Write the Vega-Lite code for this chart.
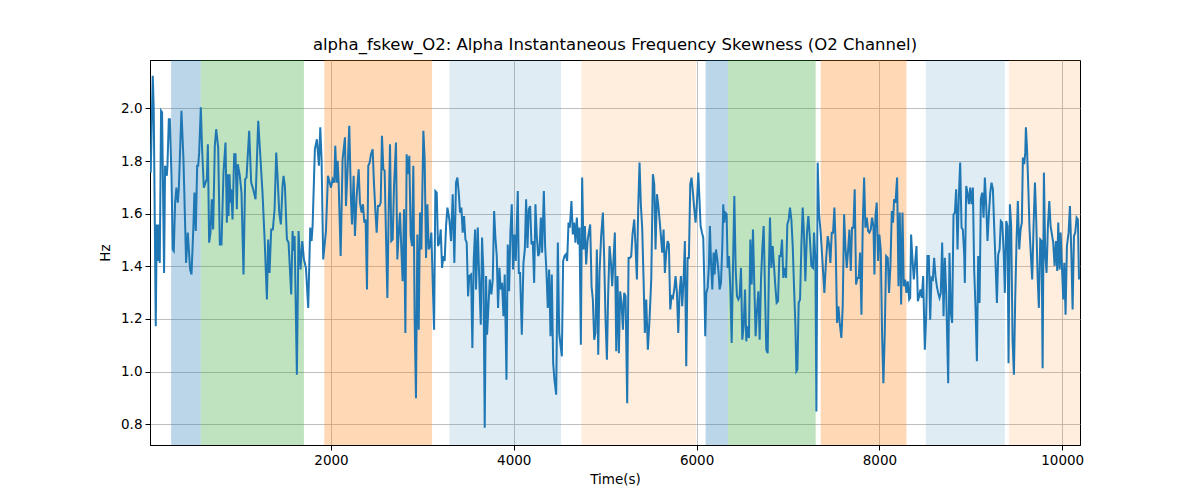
{
"$schema": "https://vega.github.io/schema/vega-lite/v6.json",
"width": 930, "height": 385,
"autosize": {"type": "none"},
"padding": {"left": 150, "top": 60, "right": 120, "bottom": 55},
"title": {"text": "alpha_fskew_O2: Alpha Instantaneous Frequency Skewness (O2 Channel)", "font": "DejaVu Sans", "fontSize": 16.5, "fontWeight": "normal", "color": "black", "offset": 7},
"config": {
  "view": {"stroke": "black", "strokeWidth": 1},
  "axis": {"labelFont": "DejaVu Sans", "titleFont": "DejaVu Sans", "labelFontSize": 13.5, "titleFontSize": 13.5, "titleFontWeight": "normal", "labelColor": "black", "titleColor": "black", "tickColor": "black", "domainColor": "black", "gridColor": "#b0b0b0", "gridWidth": 0.8, "tickSize": 5, "labelPadding": 3}
},
"datasets": {
  "spans": [
    {"s":251,"e":576,"k":"a"},{"s":576,"e":1704,"k":"b"},{"s":1927,"e":3106,"k":"c"},{"s":3295,"e":4518,"k":"d"},{"s":4741,"e":5997,"k":"e"},
    {"s":6099,"e":6343,"k":"a"},{"s":6343,"e":7303,"k":"b"},{"s":7358,"e":8296,"k":"c"},{"s":8508,"e":9373,"k":"d"},{"s":9417,"e":10300,"k":"e"}
  ],
  "series": [
{"t":28,"v":1.756},{"t":50,"v":2.124},{"t":61,"v":1.997},{"t":83,"v":1.172},{"t":94,"v":1.559},{"t":109,"v":1.420},{"t":116,"v":1.559},{"t":127,"v":1.413},{"t":141,"v":1.991},{"t":152,"v":1.985},{"t":174,"v":1.375},{"t":185,"v":1.782},{"t":204,"v":1.744},{"t":211,"v":1.782},{"t":226,"v":1.959},{"t":237,"v":1.959},{"t":255,"v":1.744},{"t":269,"v":1.464},{"t":280,"v":1.458},{"t":295,"v":1.642},{"t":309,"v":1.699},{"t":324,"v":1.642},{"t":335,"v":1.693},{"t":364,"v":1.991},{"t":386,"v":1.807},{"t":415,"v":1.413},{"t":433,"v":1.528},{"t":459,"v":1.388},{"t":474,"v":1.369},{"t":495,"v":1.553},{"t":506,"v":1.680},{"t":521,"v":1.534},{"t":536,"v":1.782},{"t":547,"v":1.782},{"t":558,"v":1.832},{"t":576,"v":2.004},{"t":590,"v":1.845},{"t":609,"v":1.699},{"t":627,"v":1.718},{"t":642,"v":1.731},{"t":653,"v":1.864},{"t":667,"v":1.490},{"t":682,"v":1.528},{"t":696,"v":1.655},{"t":711,"v":1.540},{"t":729,"v":1.858},{"t":744,"v":1.921},{"t":766,"v":1.851},{"t":784,"v":1.483},{"t":802,"v":1.483},{"t":824,"v":1.756},{"t":846,"v":1.870},{"t":861,"v":1.566},{"t":872,"v":1.750},{"t":879,"v":1.591},{"t":890,"v":1.750},{"t":901,"v":1.642},{"t":908,"v":1.693},{"t":923,"v":1.578},{"t":941,"v":1.826},{"t":956,"v":1.826},{"t":970,"v":1.617},{"t":981,"v":1.788},{"t":1003,"v":1.744},{"t":1021,"v":1.680},{"t":1043,"v":1.369},{"t":1061,"v":1.731},{"t":1076,"v":1.737},{"t":1105,"v":1.915},{"t":1127,"v":1.718},{"t":1149,"v":1.693},{"t":1175,"v":1.655},{"t":1204,"v":1.953},{"t":1229,"v":1.807},{"t":1251,"v":1.680},{"t":1277,"v":1.477},{"t":1299,"v":1.274},{"t":1313,"v":1.502},{"t":1328,"v":1.375},{"t":1346,"v":1.540},{"t":1364,"v":1.540},{"t":1383,"v":1.617},{"t":1401,"v":1.832},{"t":1415,"v":1.744},{"t":1434,"v":1.604},{"t":1452,"v":1.559},{"t":1470,"v":1.705},{"t":1481,"v":1.744},{"t":1496,"v":1.705},{"t":1518,"v":1.502},{"t":1536,"v":1.490},{"t":1565,"v":1.293},{"t":1580,"v":1.534},{"t":1591,"v":1.458},{"t":1602,"v":1.515},{"t":1627,"v":0.988},{"t":1645,"v":1.534},{"t":1667,"v":1.388},{"t":1686,"v":1.496},{"t":1704,"v":1.426},{"t":1726,"v":1.394},{"t":1751,"v":1.242},{"t":1773,"v":1.547},{"t":1788,"v":1.496},{"t":1799,"v":1.553},{"t":1824,"v":1.845},{"t":1846,"v":1.883},{"t":1868,"v":1.782},{"t":1883,"v":1.928},{"t":1897,"v":1.807},{"t":1915,"v":1.426},{"t":1945,"v":1.534},{"t":1967,"v":1.744},{"t":2000,"v":1.699},{"t":2018,"v":1.731},{"t":2036,"v":1.718},{"t":2047,"v":1.858},{"t":2062,"v":1.718},{"t":2073,"v":1.801},
{"t":2084,"v":1.718},{"t":2106,"v":1.439},{"t":2127,"v":1.807},{"t":2153,"v":1.890},{"t":2164,"v":1.629},{"t":2182,"v":1.769},{"t":2200,"v":1.934},{"t":2219,"v":1.655},{"t":2230,"v":1.559},{"t":2248,"v":1.744},{"t":2262,"v":1.515},{"t":2281,"v":1.667},{"t":2303,"v":1.769},{"t":2317,"v":1.642},{"t":2335,"v":1.604},{"t":2350,"v":1.636},{"t":2365,"v":1.566},{"t":2379,"v":1.578},{"t":2394,"v":1.312},{"t":2408,"v":1.782},{"t":2423,"v":1.794},{"t":2438,"v":1.826},{"t":2456,"v":1.845},{"t":2470,"v":1.718},{"t":2485,"v":1.617},{"t":2500,"v":1.528},{"t":2514,"v":1.629},{"t":2529,"v":1.629},{"t":2544,"v":1.642},{"t":2558,"v":1.896},{"t":2573,"v":1.769},{"t":2587,"v":1.763},{"t":2602,"v":1.515},{"t":2617,"v":1.280},{"t":2631,"v":1.604},{"t":2646,"v":1.864},{"t":2660,"v":1.496},{"t":2675,"v":1.502},{"t":2690,"v":1.705},{"t":2711,"v":1.870},{"t":2726,"v":1.426},{"t":2741,"v":1.528},{"t":2755,"v":1.604},{"t":2770,"v":1.464},{"t":2784,"v":1.343},{"t":2799,"v":1.617},{"t":2814,"v":1.147},{"t":2828,"v":1.826},{"t":2843,"v":1.750},{"t":2857,"v":1.820},{"t":2872,"v":1.515},{"t":2887,"v":1.477},{"t":2901,"v":1.782},{"t":2916,"v":1.185},{"t":2930,"v":0.899},{"t":2945,"v":1.521},{"t":2960,"v":1.159},{"t":2974,"v":1.604},{"t":2989,"v":1.464},{"t":3011,"v":1.915},{"t":3025,"v":1.807},{"t":3040,"v":1.432},{"t":3055,"v":1.636},{"t":3069,"v":1.464},{"t":3084,"v":1.477},{"t":3098,"v":1.528},{"t":3128,"v":1.159},{"t":3142,"v":1.686},{"t":3157,"v":1.680},{"t":3171,"v":1.477},{"t":3186,"v":1.490},{"t":3201,"v":1.540},{"t":3215,"v":1.394},{"t":3230,"v":1.439},{"t":3244,"v":1.420},{"t":3259,"v":1.553},{"t":3274,"v":1.623},{"t":3295,"v":1.578},{"t":3314,"v":1.496},{"t":3332,"v":1.674},{"t":3350,"v":1.413},{"t":3368,"v":1.718},{"t":3383,"v":1.737},{"t":3398,"v":1.680},{"t":3412,"v":1.604},{"t":3427,"v":1.623},{"t":3441,"v":1.528},{"t":3456,"v":1.591},{"t":3471,"v":1.502},{"t":3485,"v":1.490},{"t":3500,"v":1.286},{"t":3514,"v":1.363},{"t":3533,"v":1.369},{"t":3547,"v":1.090},{"t":3562,"v":1.426},{"t":3577,"v":1.540},{"t":3587,"v":1.312},{"t":3606,"v":1.547},{"t":3620,"v":1.375},{"t":3639,"v":1.178},{"t":3653,"v":1.509},{"t":3668,"v":1.375},{"t":3682,"v":0.787},{"t":3697,"v":1.363},{"t":3708,"v":1.140},{"t":3723,"v":1.248},{"t":3737,"v":1.350},{"t":3755,"v":1.293},{"t":3770,"v":1.350},{"t":3785,"v":1.610},{"t":3799,"v":1.509},{"t":3814,"v":1.439},{"t":3828,"v":1.242},{"t":3843,"v":1.394},{"t":3857,"v":1.312},{"t":3872,"v":1.337},{"t":3887,"v":1.210},{"t":3901,"v":1.369},{"t":3920,"v":0.969},{"t":3934,"v":1.483},{"t":3949,"v":1.305},{"t":3963,"v":1.528},{"t":3978,"v":1.636},{"t":3992,"v":1.388},{"t":4007,"v":1.521},{"t":4022,"v":1.420},{"t":4044,"v":1.686},{"t":4055,"v":1.375},
{"t":4069,"v":1.375},{"t":4088,"v":1.140},{"t":4106,"v":1.413},{"t":4121,"v":1.464},{"t":4135,"v":1.655},{"t":4150,"v":1.470},{"t":4164,"v":1.617},{"t":4179,"v":1.629},{"t":4194,"v":1.483},{"t":4208,"v":1.496},{"t":4223,"v":1.337},{"t":4237,"v":1.636},{"t":4252,"v":1.515},{"t":4267,"v":1.439},{"t":4281,"v":1.452},{"t":4296,"v":1.585},{"t":4310,"v":1.452},{"t":4329,"v":1.686},{"t":4343,"v":1.477},{"t":4358,"v":1.375},{"t":4372,"v":1.242},{"t":4387,"v":1.388},{"t":4402,"v":1.134},{"t":4416,"v":1.369},{"t":4431,"v":1.032},{"t":4445,"v":0.969},{"t":4464,"v":0.912},{"t":4482,"v":1.490},{"t":4497,"v":1.147},{"t":4511,"v":1.102},{"t":4526,"v":1.058},{"t":4540,"v":1.420},{"t":4555,"v":1.439},{"t":4569,"v":1.445},{"t":4584,"v":1.420},{"t":4599,"v":1.566},{"t":4613,"v":1.547},{"t":4631,"v":1.648},{"t":4646,"v":1.521},{"t":4661,"v":1.566},{"t":4675,"v":1.490},{"t":4690,"v":1.585},{"t":4704,"v":1.483},{"t":4719,"v":1.547},{"t":4734,"v":1.102},{"t":4748,"v":1.737},{"t":4763,"v":1.464},{"t":4778,"v":1.553},{"t":4792,"v":1.407},{"t":4807,"v":1.496},{"t":4821,"v":1.528},{"t":4836,"v":1.559},{"t":4851,"v":1.324},{"t":4865,"v":1.274},{"t":4880,"v":1.121},{"t":4894,"v":1.147},{"t":4909,"v":1.464},{"t":4924,"v":1.064},{"t":4938,"v":1.375},{"t":4956,"v":1.515},{"t":4975,"v":1.604},{"t":4989,"v":1.432},{"t":5004,"v":1.197},{"t":5019,"v":1.045},{"t":5033,"v":1.299},{"t":5048,"v":1.477},{"t":5062,"v":1.420},{"t":5077,"v":1.324},{"t":5091,"v":1.426},{"t":5106,"v":1.528},{"t":5121,"v":1.077},{"t":5135,"v":1.363},{"t":5150,"v":1.070},{"t":5164,"v":1.305},{"t":5179,"v":1.261},{"t":5194,"v":1.159},{"t":5208,"v":1.299},{"t":5223,"v":1.286},{"t":5241,"v":0.880},{"t":5256,"v":1.432},{"t":5270,"v":1.432},{"t":5285,"v":1.439},{"t":5299,"v":1.521},{"t":5318,"v":1.578},{"t":5332,"v":1.477},{"t":5347,"v":1.350},{"t":5361,"v":1.617},{"t":5376,"v":1.794},{"t":5391,"v":1.629},{"t":5405,"v":1.547},{"t":5420,"v":1.350},{"t":5434,"v":1.147},{"t":5449,"v":1.274},{"t":5467,"v":1.083},{"t":5486,"v":1.204},{"t":5504,"v":1.350},{"t":5522,"v":1.750},{"t":5537,"v":1.712},{"t":5551,"v":1.464},{"t":5566,"v":1.674},{"t":5580,"v":1.636},{"t":5595,"v":1.578},{"t":5610,"v":1.515},{"t":5624,"v":1.452},{"t":5639,"v":1.540},{"t":5653,"v":1.375},{"t":5668,"v":1.452},{"t":5683,"v":1.496},{"t":5697,"v":1.483},{"t":5712,"v":1.236},{"t":5726,"v":1.286},{"t":5741,"v":1.280},{"t":5756,"v":1.312},{"t":5770,"v":1.363},{"t":5785,"v":1.299},{"t":5800,"v":1.147},{"t":5814,"v":1.299},{"t":5829,"v":1.363},{"t":5843,"v":1.248},{"t":5858,"v":1.350},{"t":5872,"v":1.496},{"t":5887,"v":1.020},{"t":5902,"v":1.432},{"t":5916,"v":1.432},{"t":5931,"v":1.712},{"t":5945,"v":1.737},{"t":5960,"v":1.680},{"t":5975,"v":1.617},{"t":5989,"v":1.566},{"t":6004,"v":1.642},{"t":6019,"v":1.756},
{"t":6044,"v":1.553},{"t":6059,"v":1.528},{"t":6073,"v":1.509},{"t":6084,"v":1.350},{"t":6095,"v":1.134},{"t":6106,"v":1.299},{"t":6121,"v":1.318},{"t":6135,"v":1.401},{"t":6146,"v":1.553},{"t":6157,"v":1.426},{"t":6172,"v":1.312},{"t":6186,"v":1.452},{"t":6197,"v":1.369},{"t":6212,"v":1.464},{"t":6227,"v":1.426},{"t":6241,"v":1.375},{"t":6252,"v":1.312},{"t":6267,"v":1.337},{"t":6281,"v":1.470},{"t":6292,"v":1.636},{"t":6303,"v":1.566},{"t":6314,"v":1.604},{"t":6329,"v":1.598},{"t":6340,"v":1.394},{"t":6354,"v":1.439},{"t":6369,"v":1.318},{"t":6384,"v":1.109},{"t":6398,"v":1.388},{"t":6413,"v":1.667},{"t":6428,"v":1.388},{"t":6442,"v":1.286},{"t":6457,"v":1.274},{"t":6471,"v":1.286},{"t":6486,"v":1.394},{"t":6500,"v":1.121},{"t":6515,"v":1.172},{"t":6530,"v":1.312},{"t":6544,"v":1.115},{"t":6559,"v":1.172},{"t":6573,"v":1.128},{"t":6588,"v":1.502},{"t":6603,"v":1.331},{"t":6617,"v":1.540},{"t":6632,"v":1.324},{"t":6646,"v":1.134},{"t":6661,"v":1.236},{"t":6676,"v":1.305},{"t":6690,"v":1.121},{"t":6705,"v":1.350},{"t":6719,"v":1.464},{"t":6734,"v":1.553},{"t":6749,"v":1.299},{"t":6763,"v":1.083},{"t":6778,"v":1.070},{"t":6792,"v":1.401},{"t":6803,"v":1.585},{"t":6818,"v":1.394},{"t":6833,"v":1.477},{"t":6847,"v":1.401},{"t":6862,"v":1.324},{"t":6876,"v":1.261},{"t":6891,"v":1.267},{"t":6906,"v":1.439},{"t":6920,"v":1.439},{"t":6935,"v":1.502},{"t":6949,"v":1.356},{"t":6964,"v":1.394},{"t":6979,"v":1.356},{"t":6993,"v":1.559},{"t":7008,"v":1.578},{"t":7022,"v":1.623},{"t":7037,"v":1.578},{"t":7052,"v":1.477},{"t":7066,"v":1.324},{"t":7081,"v":1.178},{"t":7092,"v":1.001},{"t":7103,"v":1.007},{"t":7117,"v":1.261},{"t":7132,"v":1.274},{"t":7146,"v":1.470},{"t":7161,"v":1.623},{"t":7176,"v":1.515},{"t":7190,"v":1.343},{"t":7208,"v":1.528},{"t":7223,"v":1.591},{"t":7238,"v":1.515},{"t":7256,"v":1.401},{"t":7274,"v":1.394},{"t":7285,"v":1.528},{"t":7300,"v":1.426},{"t":7311,"v":0.848},{"t":7325,"v":1.794},{"t":7340,"v":1.598},{"t":7358,"v":1.528},{"t":7376,"v":1.426},{"t":7398,"v":1.299},{"t":7417,"v":1.426},{"t":7435,"v":1.515},{"t":7450,"v":1.483},{"t":7464,"v":1.413},{"t":7479,"v":1.528},{"t":7493,"v":1.528},{"t":7508,"v":1.623},{"t":7522,"v":1.477},{"t":7537,"v":1.185},{"t":7552,"v":1.248},{"t":7566,"v":1.185},{"t":7584,"v":1.128},{"t":7599,"v":1.248},{"t":7614,"v":1.598},{"t":7628,"v":1.477},{"t":7643,"v":1.394},{"t":7657,"v":1.458},{"t":7672,"v":1.540},{"t":7687,"v":1.382},{"t":7701,"v":1.547},{"t":7716,"v":1.547},{"t":7730,"v":1.693},{"t":7745,"v":1.331},{"t":7760,"v":1.356},{"t":7774,"v":1.356},{"t":7789,"v":1.452},{"t":7804,"v":1.216},{"t":7818,"v":1.553},{"t":7833,"v":1.737},{"t":7847,"v":1.547},{"t":7862,"v":1.585},{"t":7877,"v":1.534},{"t":7891,"v":1.528},{"t":7906,"v":1.540},{"t":7920,"v":1.585},{"t":7935,"v":1.553},{"t":7946,"v":1.369},{"t":7957,"v":1.591},{"t":7971,"v":1.642},{"t":7986,"v":1.420},{"t":8000,"v":1.521},{"t":8015,"v":1.464},{"t":8030,"v":1.134},{"t":8044,"v":0.956},{"t":8059,"v":1.147},{"t":8074,"v":1.439},{"t":8092,"v":1.432},{"t":8106,"v":1.299},
{"t":8121,"v":1.401},{"t":8136,"v":1.610},{"t":8150,"v":1.566},{"t":8161,"v":1.655},{"t":8176,"v":1.642},{"t":8194,"v":1.737},{"t":8209,"v":1.324},{"t":8223,"v":1.604},{"t":8238,"v":1.255},{"t":8253,"v":1.604},{"t":8267,"v":1.324},{"t":8282,"v":1.350},{"t":8296,"v":1.299},{"t":8311,"v":1.343},{"t":8326,"v":1.274},{"t":8337,"v":1.280},{"t":8347,"v":1.521},{"t":8362,"v":1.426},{"t":8377,"v":1.350},{"t":8391,"v":1.413},{"t":8406,"v":1.477},{"t":8421,"v":1.267},{"t":8435,"v":1.286},{"t":8450,"v":1.312},{"t":8464,"v":1.280},{"t":8479,"v":1.363},{"t":8497,"v":1.083},{"t":8512,"v":1.210},{"t":8526,"v":1.439},{"t":8541,"v":1.439},{"t":8556,"v":1.197},{"t":8570,"v":1.356},{"t":8585,"v":1.350},{"t":8599,"v":1.432},{"t":8614,"v":1.363},{"t":8629,"v":1.324},{"t":8643,"v":1.299},{"t":8658,"v":1.280},{"t":8672,"v":1.299},{"t":8687,"v":1.490},{"t":8702,"v":1.210},{"t":8716,"v":1.432},{"t":8731,"v":1.299},{"t":8753,"v":0.956},{"t":8767,"v":1.451},{"t":8782,"v":1.223},{"t":8796,"v":1.185},{"t":8811,"v":1.597},{"t":8826,"v":1.604},{"t":8840,"v":1.693},{"t":8855,"v":1.464},{"t":8869,"v":1.661},{"t":8884,"v":1.794},{"t":8899,"v":1.547},{"t":8913,"v":1.540},{"t":8928,"v":1.445},{"t":8935,"v":1.337},{"t":8950,"v":1.705},{"t":8964,"v":1.680},{"t":8979,"v":1.636},{"t":8994,"v":1.699},{"t":9008,"v":1.636},{"t":9023,"v":1.699},{"t":9037,"v":1.388},{"t":9052,"v":1.242},{"t":9067,"v":1.039},{"t":9081,"v":1.439},{"t":9096,"v":1.261},{"t":9110,"v":1.655},{"t":9125,"v":1.680},{"t":9140,"v":1.585},{"t":9154,"v":1.737},{"t":9169,"v":1.629},{"t":9183,"v":1.496},{"t":9198,"v":1.598},{"t":9213,"v":1.680},{"t":9227,"v":1.718},{"t":9242,"v":1.693},{"t":9256,"v":1.553},{"t":9271,"v":1.413},{"t":9286,"v":1.261},{"t":9300,"v":1.445},{"t":9315,"v":1.464},{"t":9329,"v":1.572},{"t":9344,"v":1.566},{"t":9359,"v":1.464},{"t":9373,"v":1.299},{"t":9388,"v":1.572},{"t":9402,"v":1.553},{"t":9413,"v":1.032},{"t":9428,"v":1.636},{"t":9442,"v":1.553},{"t":9457,"v":1.121},{"t":9472,"v":0.988},{"t":9486,"v":1.274},{"t":9501,"v":1.502},{"t":9515,"v":1.648},{"t":9530,"v":1.464},{"t":9545,"v":1.540},{"t":9559,"v":1.566},{"t":9570,"v":1.813},{"t":9585,"v":1.788},{"t":9596,"v":1.832},{"t":9603,"v":1.928},{"t":9614,"v":1.858},{"t":9629,"v":1.705},{"t":9643,"v":1.540},{"t":9658,"v":1.439},{"t":9672,"v":1.350},{"t":9687,"v":1.553},{"t":9702,"v":1.718},{"t":9716,"v":1.578},{"t":9731,"v":1.363},{"t":9745,"v":1.242},{"t":9760,"v":1.502},{"t":9775,"v":1.496},{"t":9786,"v":1.013},{"t":9800,"v":1.756},{"t":9815,"v":1.439},{"t":9829,"v":1.375},{"t":9844,"v":1.553},{"t":9859,"v":1.648},{"t":9873,"v":1.553},{"t":9888,"v":1.521},{"t":9902,"v":1.490},{"t":9917,"v":1.401},{"t":9932,"v":1.496},{"t":9946,"v":1.382},{"t":9957,"v":1.566},{"t":9972,"v":1.388},{"t":9983,"v":1.528},{"t":9997,"v":1.401},{"t":10012,"v":1.274},{"t":10023,"v":1.413},{"t":10037,"v":1.216},{"t":10052,"v":1.477},{"t":10070,"v":1.528},{"t":10085,"v":1.629},{"t":10100,"v":1.452},{"t":10114,"v":1.236},{"t":10129,"v":1.515},{"t":10143,"v":1.528},{"t":10158,"v":1.585},{"t":10172,"v":1.578},{"t":10184,"v":1.350}
  ]
},
"layer": [
  {
    "data": {"name": "spans"},
    "transform": [{"filter": "datum.k === 'a' || datum.k === 'b' || datum.k === 'c'"}],
    "mark": {"type": "rect", "clip": true, "opacity": 0.3},
    "encoding": {
      "x": {"field": "s", "type": "quantitative", "scale": {"domain": [20, 10195], "nice": false, "zero": false},
            "axis": {"title": "Time(s)", "values": [2000, 4000, 6000, 8000, 10000], "format": "d", "grid": true, "titlePadding": 6}},
      "x2": {"field": "e"},
      "color": {"field": "k", "type": "nominal", "legend": null, "scale": {"domain": ["a","b","c","d","e"], "range": ["#1f77b4","#2ca02c","#ff7f0e","#1f77b4","#ff7f0e"]}}
    }
  },
  {
    "data": {"name": "spans"},
    "transform": [{"filter": "datum.k === 'd' || datum.k === 'e'"}],
    "mark": {"type": "rect", "clip": true, "opacity": 0.14},
    "encoding": {
      "x": {"field": "s", "type": "quantitative"},
      "x2": {"field": "e"},
      "color": {"field": "k", "type": "nominal", "legend": null}
    }
  },
  {
    "data": {"name": "series"},
    "mark": {"type": "line", "color": "#1f77b4", "strokeWidth": 2, "clip": true},
    "encoding": {
      "x": {"field": "t", "type": "quantitative"},
      "y": {"field": "v", "type": "quantitative", "scale": {"domain": [0.721, 2.184], "nice": false, "zero": false},
            "axis": {"title": "Hz", "values": [0.8, 1.0, 1.2, 1.4, 1.6, 1.8, 2.0], "format": ".1f", "grid": true, "titlePadding": 8}}
    }
  }
]
}
